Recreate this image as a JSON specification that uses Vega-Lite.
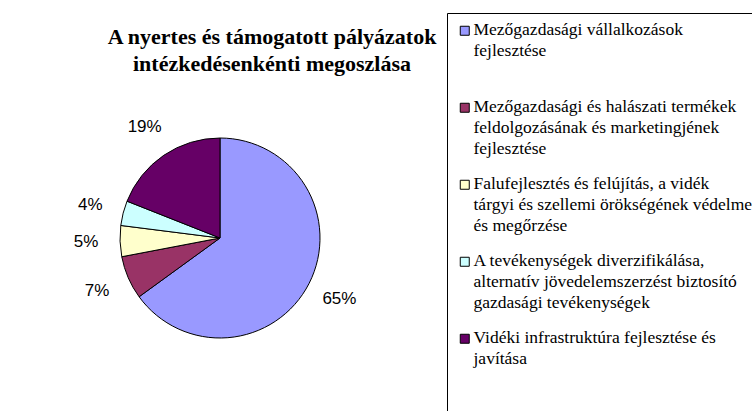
{
  "$schema": "https://vega.github.io/schema/vega-lite/v6.json",
  "autosize": "none",
  "width": 440,
  "height": 306,
  "padding": {"left": 0, "top": 85, "right": 312, "bottom": 20},
  "background": "white",
  "title": {
    "text": ["A nyertes és támogatott pályázatok", "intézkedésenkénti megoszlása"],
    "anchor": "middle",
    "font": "Liberation Serif",
    "fontSize": 22,
    "fontWeight": "bold",
    "lineHeight": 27,
    "color": "black",
    "offset": 7,
    "dx": 52,
    "dy": 70
  },
  "data": {
    "values": [
      {"category": "Mezőgazdasági vállalkozások fejlesztése", "share": 0.65, "rank": 1},
      {"category": "Mezőgazdasági és halászati termékek feldolgozásának és marketingjének fejlesztése", "share": 0.07, "rank": 2},
      {"category": "Falufejlesztés és felújítás, a vidék tárgyi és szellemi örökségének védelme és megőrzése", "share": 0.05, "rank": 3},
      {"category": "A tevékenységek diverzifikálása, alternatív jövedelemszerzést biztosító gazdasági tevékenységek", "share": 0.04, "rank": 4},
      {"category": "Vidéki infrastruktúra fejlesztése és javítása", "share": 0.19, "rank": 5}
    ]
  },
  "encoding": {
    "theta": {"field": "share", "type": "quantitative", "stack": true},
    "order": {"field": "rank", "type": "quantitative"}
  },
  "layer": [
    {
      "mark": {"type": "arc", "outerRadius": 100, "stroke": "black", "strokeWidth": 1},
      "encoding": {
        "color": {
          "field": "category",
          "type": "nominal",
          "scale": {
            "domain": [
              "Mezőgazdasági vállalkozások fejlesztése",
              "Mezőgazdasági és halászati termékek feldolgozásának és marketingjének fejlesztése",
              "Falufejlesztés és felújítás, a vidék tárgyi és szellemi örökségének védelme és megőrzése",
              "A tevékenységek diverzifikálása, alternatív jövedelemszerzést biztosító gazdasági tevékenységek",
              "Vidéki infrastruktúra fejlesztése és javítása"
            ],
            "range": ["#9999FF", "#993366", "#FFFFCC", "#CCFFFF", "#660066"]
          },
          "legend": {
            "orient": "none",
            "legendX": 447,
            "legendY": -72,
            "title": null,
            "padding": 9,
            "strokeColor": "black",
            "fillColor": "white",
            "symbolType": "square",
            "symbolSize": 81,
            "symbolStrokeColor": "black",
            "symbolStrokeWidth": 1,
            "labelFont": "Liberation Serif",
            "labelFontSize": 17.5,
            "labelColor": "black",
            "labelLimit": 400,
            "labelOffset": 0,
            "labelBaseline": "top",
            "rowPadding": 16,
            "labelExpr": "datum.label == 'Mezőgazdasági vállalkozások fejlesztése' ? ['Mezőgazdasági vállalkozások', 'fejlesztése', ' '] : datum.label == 'Mezőgazdasági és halászati termékek feldolgozásának és marketingjének fejlesztése' ? ['Mezőgazdasági és halászati termékek', 'feldolgozásának és marketingjének', 'fejlesztése'] : datum.label == 'Falufejlesztés és felújítás, a vidék tárgyi és szellemi örökségének védelme és megőrzése' ? ['Falufejlesztés és felújítás, a vidék', 'tárgyi és szellemi örökségének védelme', 'és megőrzése'] : datum.label == 'A tevékenységek diverzifikálása, alternatív jövedelemszerzést biztosító gazdasági tevékenységek' ? ['A tevékenységek diverzifikálása,', 'alternatív jövedelemszerzést biztosító', 'gazdasági tevékenységek'] : ['Vidéki infrastruktúra fejlesztése és', 'javítása', ' ', ' ']",
            "encode": {
              "labels": {"update": {
                "dy": {"value": -10},
                "lineHeight": {"value": 21},
                "font": {"value": "Liberation Serif"},
                "fontSize": {"value": 17.5},
                "fill": {"value": "black"}
              }}
            }
          }
        }
      }
    },
    {
      "mark": {"type": "text", "radius": 134, "font": "Liberation Sans", "fontSize": 17, "color": "black"},
      "encoding": {
        "text": {"field": "share", "type": "quantitative", "format": ".0%"}
      }
    }
  ]
}
